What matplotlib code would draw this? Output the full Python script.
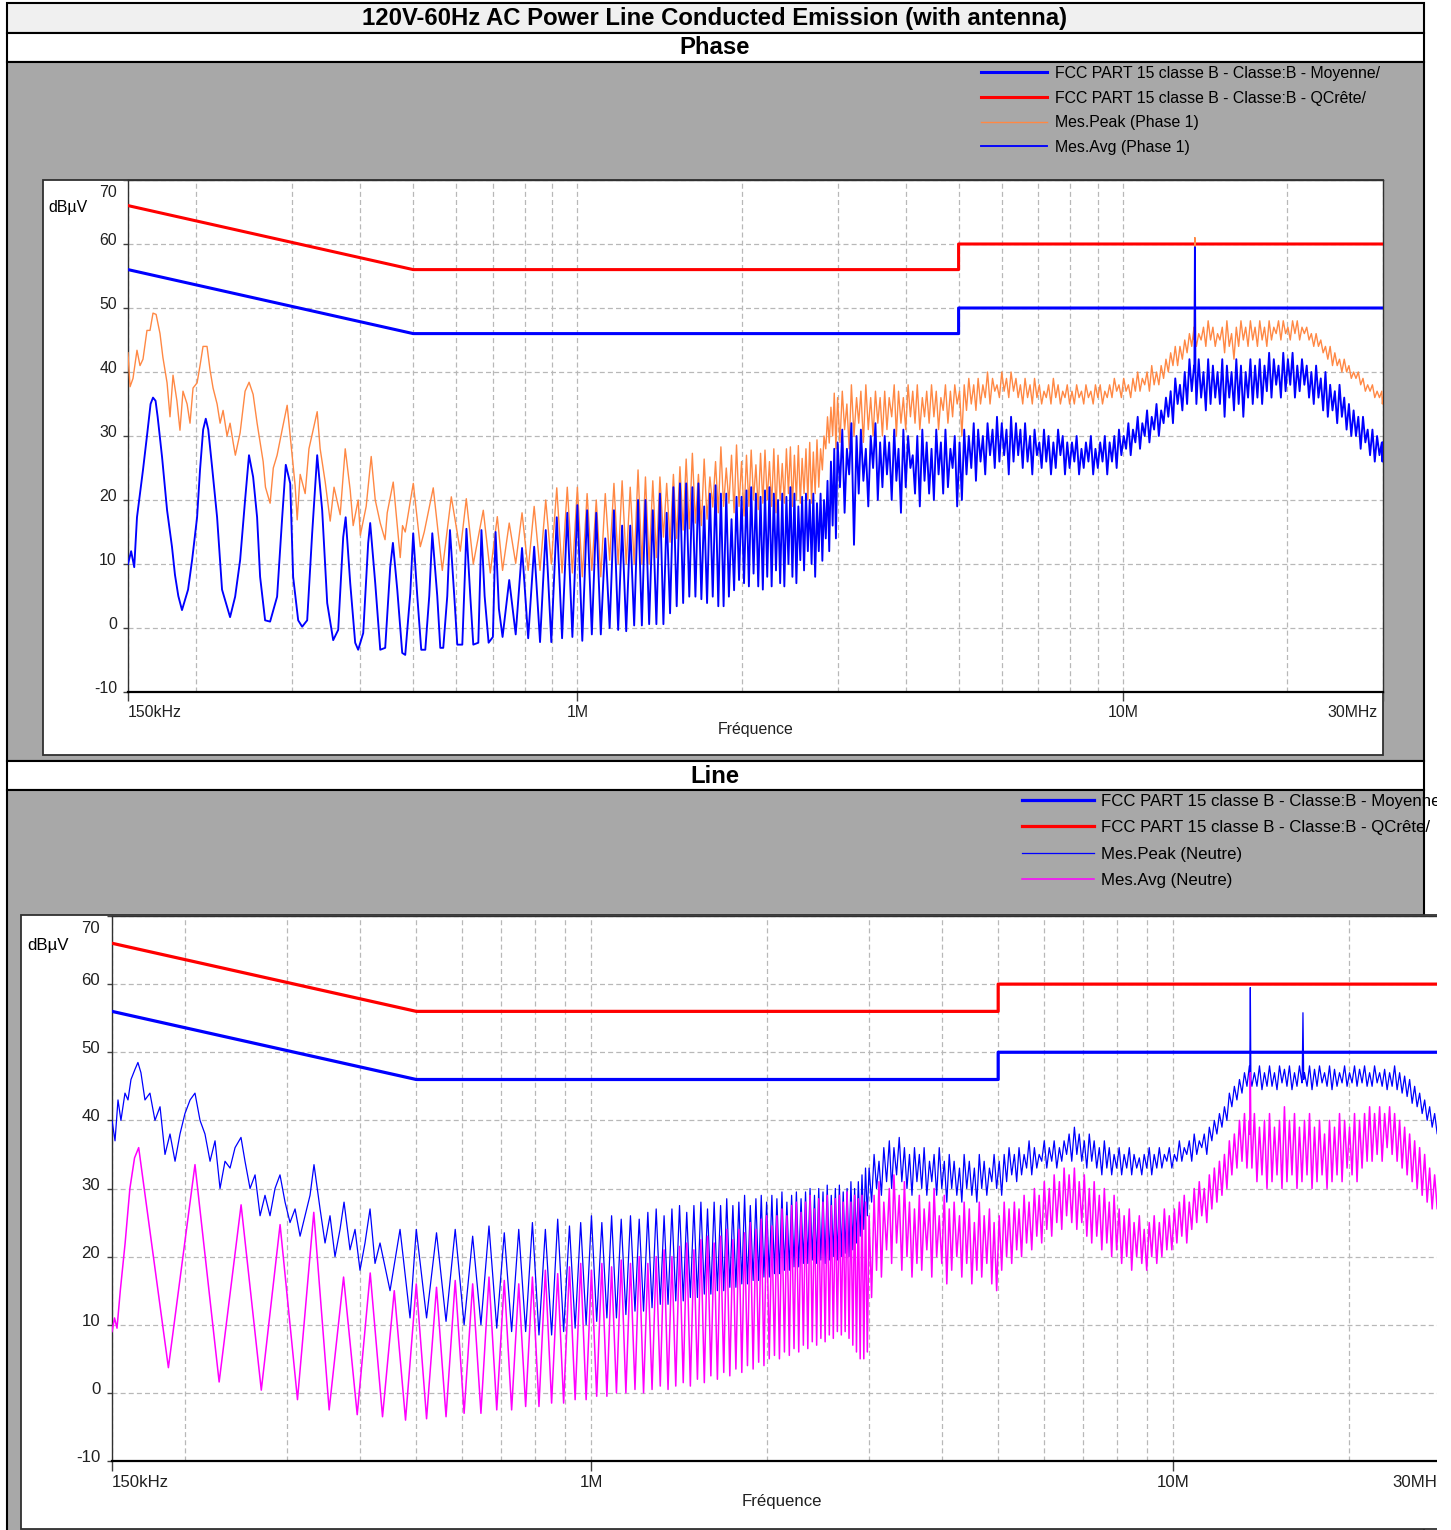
import numpy as np
import matplotlib
matplotlib.use("Agg")
import matplotlib.pyplot as plt
from matplotlib.patches import Rectangle
from matplotlib.ticker import NullFormatter

W, H = 1451, 1530

# ---------------- texts ----------------
chart_title = "120V-60Hz AC Power Line Conducted Emission (with antenna)"
panel_names = ["Phase", "Line"]
top_legend = ["FCC PART 15 classe B - Classe:B - Moyenne/",
              "FCC PART 15 classe B - Classe:B - QCrête/",
              "Mes.Peak (Phase 1)", "Mes.Avg (Phase 1)"]
bot_legend = ["FCC PART 15 classe B - Classe:B - Moyenne/",
              "FCC PART 15 classe B - Classe:B - QCrête/",
              "Mes.Peak (Neutre)", "Mes.Avg (Neutre)"]
y_label = "dBµV"
x_label = "Fréquence"
y_ticks = [-10, 0, 10, 20, 30, 40, 50, 60, 70]
x_major_mhz = [0.15, 1, 10, 30]
x_major_labels = ["150kHz", "1M", "10M", "30MHz"]
x_minor_mhz = [0.2, 0.3, 0.4, 0.5, 0.6, 0.7, 0.8, 0.9, 2, 3, 4, 5, 6, 7, 8, 9, 20]

# ---------------- limits ----------------
limit_f_mhz = [0.15, 0.5, 5, 5, 30]
qp_limit_db = [66, 56, 56, 60, 60]
avg_limit_db = [56, 46, 46, 50, 50]

# ---------------- shared frequency positions (kHz) ----------------
harm_pk_khz = [166.7, 208.3, 250.0, 291.7, 333.3, 375.0, 416.7, 458.3, 500.0, 541.7,
               583.3, 625.0, 666.7, 708.3, 750.0, 791.7, 833.3, 875.0, 916.7, 958.3,
               1000, 1042, 1083, 1125, 1167, 1208, 1250, 1292, 1333, 1375,
               1417, 1458, 1500, 1542, 1583, 1625, 1667, 1708, 1750, 1792,
               1833, 1875, 1917, 1958, 2000, 2042, 2083, 2125, 2167, 2208,
               2250, 2292, 2333, 2375, 2417, 2458, 2500, 2542, 2583, 2625,
               2667, 2708, 2750, 2792, 2833, 2875, 2917, 2958]
harm_tr_khz = [187.5, 229.2, 270.8, 312.5, 354.2, 395.8, 437.5, 479.2, 520.8, 562.5,
               604.2, 645.8, 687.5, 729.2, 770.8, 812.5, 854.2, 895.8, 937.5, 979.2,
               1021, 1063, 1104, 1146, 1188, 1229, 1271, 1313, 1354, 1396,
               1438, 1479, 1521, 1563, 1604, 1646, 1688, 1729, 1771, 1813,
               1854, 1896, 1938, 1979, 2021, 2063, 2104, 2146, 2188, 2229,
               2271, 2313, 2354, 2396, 2438, 2479, 2521, 2563, 2604, 2646,
               2688, 2729, 2771, 2813, 2854, 2896, 2938, 2979]
hf_khz = [3000, 3060, 3120, 3180, 3250, 3310, 3380, 3450, 3520, 3590,
          3660, 3730, 3810, 3880, 3960, 4040, 4120, 4200, 4290, 4370,
          4460, 4550, 4640, 4730, 4830, 4920, 5020, 5120, 5220, 5330,
          5430, 5540, 5650, 5770, 5880, 6000, 6120, 6240, 6370, 6490,
          6620, 6760, 6890, 7030, 7170, 7310, 7460, 7610, 7760, 7910,
          8070, 8230, 8400, 8560, 8740, 8910, 9090, 9270, 9460, 9650,
          9840, 10040, 10240, 10440, 10650, 10860, 11080, 11300, 11530, 11760,
          12000, 12240, 12480, 12730, 12990, 13250, 13510, 13780, 14060, 14340,
          14630, 14920, 15220, 15520, 15830, 16150, 16470, 16800, 17140, 17480,
          17830, 18190, 18550, 18920, 19300, 19690, 20080, 20480, 20890, 21310,
          21740, 22170, 22620, 23070, 23530, 24000, 24480, 24970, 25470, 25980,
          26500, 27030, 27570, 28120, 28690, 29260, 29850, 30000]
hf_mid_khz = [3030, 3090, 3150, 3215, 3280, 3345, 3415, 3485, 3555, 3625,
              3695, 3770, 3845, 3920, 4000, 4080, 4160, 4245, 4330, 4415,
              4505, 4595, 4685, 4780, 4875, 4970, 5070, 5170, 5275, 5380,
              5485, 5595, 5710, 5825, 5940, 6060, 6180, 6305, 6430, 6555,
              6690, 6825, 6960, 7100, 7240, 7385, 7535, 7685, 7835, 7990,
              8150, 8315, 8480, 8650, 8825, 9000, 9180, 9365, 9555, 9745,
              9940, 10140, 10340, 10545, 10755, 10970, 11190, 11415, 11645, 11880,
              12120, 12360, 12605, 12860, 13120, 13380, 13645, 13920, 14200, 14485,
              14775, 15070, 15370, 15675, 15990, 16310, 16635, 16970, 17310, 17655,
              18010, 18370, 18735, 19110, 19495, 19885, 20280, 20685, 21100, 21525,
              21955, 22395, 22845, 23300, 23765, 24240, 24725, 25220, 25725, 26240,
              26765, 27300, 27845, 28405, 28975, 29555, 29925]

# ---------------- Phase : Mes.Avg ----------------
ph_avg_low_khz = [150, 152, 154, 155.8, 159.8, 162.5, 165, 166.7, 168.5, 170, 173.2, 176.9, 180.6,
                  182.9, 185.5, 188.4, 190.8, 193.3, 196.6, 200.8, 203.3, 206, 208.3, 210.5, 213.9,
                  218.5, 223.1, 227.9, 230.8, 235.8, 240.8, 245.9, 250, 254.4, 258.7, 262, 267.6,
                  273.3, 281.5, 287.6, 292, 297.5, 301.2, 307.7, 312.9, 319.6, 326.4, 333.4, 340.5,
                  347.8, 356.7, 364.3, 372.1, 376, 383.3, 391.4, 396.4, 404.9, 413.5, 417, 426,
                  435.1, 444.3, 453.8, 459, 467.5, 477.4, 483.5, 493.9, 500, 508.7, 517.3, 526.2,
                  535.1, 542, 553.5, 560.6, 567.7, 577.4, 584, 594.7, 602.3, 615.2, 623, 626,
                  636.3, 644.4, 658.2, 667, 676, 687.5, 700, 708, 718]
ph_avg_low_db = [10, 12, 9.5, 17.3, 24.7, 30, 35, 36, 35.5, 33, 26.7, 18.4, 12.7,
                 8.3, 5, 2.8, 4.4, 6, 10.6, 17.3, 24.7, 31, 32.7, 31, 25.2,
                 17.3, 6, 3.3, 1.7, 4.9, 10.6, 20, 27, 23.6, 17.3, 8, 1.2,
                 1, 4.9, 17.3, 25.5, 22.6, 8, 1.2, 0.2, 1.2, 14.8, 27, 18.4,
                 3.9, -1.9, -0.3, 14.2, 17.3, 7, -2.3, -3.4, -0.8, 13.3, 16.4, 7,
                 -3.4, -3.1, 9.5, 13.3, 6, -3.9, -4.2, 5.4, 14.8, 5, -3.4, -3.4,
                 5, 14.8, 5, -3.1, -3.1, 5, 15.3, 5, -2.6, -2.6, 10, 15.5,
                 5, -2.6, -2.3, 15.3, 5, -2.3, -1.4, 15, 3]
ph_avg_pk_db = [7.5, 12.5, 12.7, 15.3, 17.3, 18, 19.2, 18.4, 18, 14, 18.4, 16, 16, 20, 20, 18.4,
                21, 18, 22, 22.6, 22.6, 22, 22.6, 19, 21, 22.3, 21, 21, 17, 20.5, 20.5, 21.5,
                22, 21, 20.5, 21.5, 22, 21, 20, 21, 20.5, 22, 21, 19, 20.5, 21, 20, 21,
                19.5, 21, 20, 23, 26, 28]
ph_avg_tr_db = [-1.4, -1.0, -1.6, -2.2, -2.2, -1.6, -1.4, -2.0, -1.0, -1.0, 0, -0.3, -0.5, 0.4,
                0.4, 0.6, 0.6, 0.6, 2.3, 3.4, 3.9, 4.9, 4.9, 4.5, 3.9, 4.9, 3.4, 3.4, 4.9, 5.9,
                7.5, 7.0, 6.5, 8.5, 6.5, 6.0, 8, 6.5, 9, 7, 6.5, 10, 8, 7, 10.6, 9, 12, 10, 8,
                12, 10.5, 14, 12, 16, 14]
ph_avg_hf_hi = [29, 31, 28, 32, 30, 31, 28, 30, 32, 29,
                30, 29, 31, 28, 31, 30, 27, 30, 31, 29,
                28, 31, 29, 31, 28, 30, 29, 31, 30, 32,
                31, 30, 32, 31, 33, 32, 31, 33, 32, 31,
                32, 30, 31, 29, 31, 30, 29, 31, 30, 29,
                29, 30, 28, 29, 30, 28, 29, 30, 29, 30,
                31, 30, 32, 31, 33, 32, 34, 33, 35, 34,
                36, 37, 39, 38, 40, 42, 41, 42, 40, 42,
                41, 40, 42, 41, 40, 42, 41, 40, 42, 41,
                42, 41, 43, 42, 41, 43, 42, 43, 41, 42,
                41, 40, 41, 39, 40, 38, 37, 38, 36, 35,
                34, 33, 33, 31, 31, 30, 29, 29]
ph_avg_hf_lo = [22, 18, 24, 13, 21, 23, 19, 25, 20, 22,
                24, 20, 23, 18, 22, 25, 21, 19, 23, 21,
                20, 24, 21, 22, 25, 19, 20, 24, 25, 23,
                26, 24, 27, 25, 26, 27, 24, 26, 27, 25,
                26, 24, 27, 25, 26, 24, 25, 27, 24, 25,
                26, 24, 25, 26, 24, 25, 26, 24, 26, 25,
                27, 28, 27, 29, 28, 30, 29, 31, 30, 32,
                33, 32, 35, 34, 35, 37, 35, 36, 34, 35,
                36, 35, 33, 36, 34, 35, 33, 36, 35, 36,
                35, 37, 36, 38, 36, 37, 38, 36, 37, 38,
                36, 35, 36, 34, 33, 34, 32, 33, 31, 30,
                30, 28, 29, 27, 26, 27, 26]
ph_avg_spike_khz = [13530, 13560, 13590]
ph_avg_spike_db = [40, 59.5, 40]

# ---------------- Phase : Mes.Peak ----------------
ph_pk_low_khz = [150, 151.3, 153.2, 155.8, 157.8, 159.8, 162.5, 164.6, 166.7, 168.9, 171.7, 173.8,
                 176.9, 179.1, 181.4, 184.4, 186.8, 189.2, 192.5, 194.9, 197.4, 200.8, 203.3, 205.9,
                 209.4, 212.1, 214.8, 218.5, 221.3, 224.1, 227.9, 230.8, 233.8, 236, 240.8, 245.9,
                 250.1, 254.4, 258.7, 262, 265.4, 268, 273.3, 277, 281.5, 287.6, 293.7, 297.5,
                 303.8, 306.4, 310.3, 316.9, 322, 327.8, 333.4, 337.6, 344.9, 352.2, 358, 367.4,
                 375.3, 383.3, 388.1, 396.4, 400, 410, 418.8, 426, 435.1, 444, 448.1, 459.6,
                 473.4, 478, 483.5, 500.2, 515.2, 523.9, 544.2, 565.4, 587.3, 610, 625.7, 644.4,
                 672.2, 692.4, 713.2]
ph_pk_low_db = [43, 37.7, 39, 43.4, 41, 42, 46.5, 46.5, 49.2, 49, 46, 42.3,
                38.3, 33, 39.5, 35.5, 30.9, 37, 35, 32, 37.5, 38.3, 41, 44,
                44, 40.3, 37.5, 35, 32, 34, 30, 32, 29, 27, 30.5, 37,
                38.4, 36.5, 32, 29, 26, 22, 19.5, 25, 27, 31, 34.8, 30,
                22.2, 16.9, 24, 21, 28, 31, 33.8, 28, 22.8, 16.7, 22, 17.7,
                28, 21.5, 16, 20, 14.5, 19, 26.8, 20, 16.4, 13.8, 18, 22.8,
                11, 16, 15, 22.6, 12.7, 15, 21.9, 9, 20.5, 12, 20.2, 10,
                18.4, 8.6, 17.4]
ph_pk_pk_db = [16.4, 18, 19, 20, 21.9, 22, 22, 21, 20, 21, 22.6, 23, 22, 24.7, 23.6, 23, 23.6,
               22.6, 24, 25.2, 26.4, 27.3, 24, 26.4, 23.6, 26, 28.3, 25, 27, 28.6, 26, 27, 27.8,
               25.5, 27.3, 27.8, 26, 28, 27, 25.7, 28, 28.3, 27, 28.5, 26.5, 28, 29, 27.5, 29.4,
               28, 30, 33, 34.5, 36.7]
ph_pk_tr_db = [9, 10.1, 9, 9, 10, 8.6, 8.6, 8, 9, 8, 10.6, 10, 10, 10, 10, 10, 11, 14.2, 13.4,
               14, 15.3, 15.5, 16.4, 16, 17, 18.9, 18, 19, 19.5, 18, 19, 17.5, 19, 20, 18.5, 19.5,
               20, 19, 18, 20, 19.5, 21, 19, 20, 19.5, 21, 20, 19.5, 21, 22, 24.7, 28, 28.9, 30, 28]
ph_pk_hf_hi = [36, 37, 35, 38, 36, 37, 38, 36, 37, 36,
               37, 36, 38, 37, 36, 38, 37, 38, 36, 37,
               38, 37, 36, 38, 37, 38, 37, 38, 39, 38,
               39, 38, 40, 39, 38, 40, 39, 40, 39, 38,
               39, 38, 39, 38, 37, 38, 39, 38, 37, 38,
               37, 38, 37, 38, 37, 38, 38, 37, 38, 39,
               38, 39, 38, 39, 40, 39, 40, 41, 40, 41,
               42, 43, 44, 44, 45, 46, 47, 46, 47, 48,
               47, 46, 47, 48, 46, 47, 48, 47, 48, 47,
               48, 47, 48, 47, 48, 48, 47, 48, 48, 47,
               47, 46, 46, 45, 44, 44, 43, 42, 42, 41,
               40, 40, 39, 38, 38, 37, 37, 36]
ph_pk_hf_lo = [29, 31, 28, 30, 32, 29, 31, 30, 32, 30,
               31, 33, 30, 32, 31, 33, 32, 31, 33, 32,
               33, 31, 34, 32, 33, 35, 30, 34, 35, 34,
               35, 36, 35, 37, 36, 37, 36, 37, 36, 35,
               36, 35, 36, 35, 36, 35, 36, 35, 36, 35,
               35, 36, 35, 36, 35, 36, 35, 36, 36, 37,
               36, 37, 36, 37, 37, 38, 37, 38, 38, 39,
               40, 41, 41, 42, 43, 44, 44, 45, 44, 45,
               44, 45, 43, 44, 42, 44, 45, 44, 45, 44,
               45, 44, 45, 46, 45, 46, 45, 46, 45, 46,
               45, 44, 44, 43, 42, 41, 41, 40, 40, 39,
               39, 38, 37, 37, 36, 36, 35]
ph_pk_spike_khz = [13530, 13560, 13590]
ph_pk_spike_db = [45, 61, 45]

# ---------------- Line : Mes.Peak (Neutre) ----------------
ln_pk_low_khz = [150, 151.8, 153.6, 155.4, 157.9, 159.8, 161.7, 164.3, 166.2, 168.2,
                 170.9, 174.3, 177.8, 181.4, 185.0, 188.7, 192.5, 196.3, 200.2, 204.3,
                 208.3, 212.5, 216.7, 221.1, 225.5, 230.0, 234.6, 239.3, 244.1, 249.9,
                 253.9, 259.0, 264.2, 269.5, 274.8, 280.3, 285.9, 291.6, 297.5, 303.4,
                 309.5, 315.7, 322.0, 328.4, 333.6, 341.7, 348.5, 355.4, 362.5, 369.8,
                 375.7, 384.7, 392.4, 400.2, 408.2, 416.4, 424.7, 433.2, 450.7, 468.9, 487.8]
ln_pk_low_db = [40, 37, 43, 40, 44, 43, 46, 47.5, 48.5, 47,
                43, 44, 40, 42, 35, 38, 34, 38, 41, 43,
                44, 40, 38, 34, 37, 30, 34, 33, 36, 37.5,
                34, 30, 32, 26, 29, 26, 30, 32, 28, 25,
                27, 23, 26, 29, 33.5, 27, 22, 26, 20, 24,
                28, 21, 24, 18, 22, 27, 19, 22, 15, 24, 11]
ln_pk_pk_db = [24, 23.5, 24, 23, 24.5, 23.5, 24, 25, 24, 25.5,
               24.5, 25, 26, 25, 26, 25.5, 26, 25.5, 26.5, 27,
               26, 27, 27.5, 26.5, 27.5, 28, 27, 28, 27.5, 28.5,
               27.5, 28, 29, 27.5, 28.5, 29, 28, 29, 28.5, 29.5,
               28, 29, 29.5, 28.5, 29.5, 30, 29, 30, 29.5, 30.5,
               29, 30, 30.5, 29.5, 30, 31, 30, 31, 32, 33]
ln_pk_tr_db = [11, 10.5, 10, 10, 9.5, 9, 9, 8.5, 8.5, 9,
               9.5, 10, 10.5, 11, 11, 11.5, 12, 12, 12.5, 13,
               13, 13.5, 13.5, 14, 14, 14.5, 14.5, 15, 15, 15.5,
               15.5, 16, 16, 16.5, 16.5, 17, 17, 17.5, 17.5, 18,
               18, 18.5, 18.5, 19, 19, 19.5, 19, 19.5, 19, 19.5,
               20, 19.5, 20, 20.5, 20, 21, 22, 23, 24, 26]
ln_pk_hf_hi = [33, 35, 34, 36, 37, 36, 37.5, 36, 35, 36,
               35, 36, 34, 35, 36, 34, 35, 34, 33, 35,
               34, 33, 35, 34, 33, 35, 34, 35, 36, 35,
               36, 35, 37, 36, 35, 37, 36, 37, 36, 37,
               38, 39, 38, 37, 38, 37, 36, 37, 36, 35,
               36, 35, 36, 35, 34.5, 35, 36, 35, 36, 35,
               36, 35, 37, 36, 37, 38, 37, 38, 39, 40,
               41, 42, 44, 45, 46, 47, 48, 47, 48, 47,
               48, 47, 48, 47.5, 48, 47, 48, 47, 48, 47.5,
               48, 47, 48, 47.5, 47, 48, 47, 48, 47.5, 48,
               47, 48, 47, 47.5, 47, 48, 47, 46.5, 46, 45,
               44, 43, 42, 41, 40, 39, 38, 36]
ln_pk_hf_lo = [28, 30, 29, 31, 30, 32, 31, 30, 29, 31,
               30, 29, 31, 29, 30, 28, 30, 29, 28, 30,
               29, 28, 30, 29, 31, 30, 29, 31, 32, 31,
               32, 33, 32, 33, 34, 33, 34, 33, 34, 35,
               34, 35, 34, 33, 34, 33, 32, 33, 32, 33,
               32, 33, 32, 33, 32, 33, 32, 33, 33, 34,
               33, 34, 34, 35, 34, 35, 36, 35, 37, 38,
               39, 40, 42, 43, 44, 45, 45, 45, 44.5, 45,
               45, 44.5, 45.5, 45, 44.5, 45, 45.5, 45, 44.5, 45,
               45.5, 45, 44.5, 45, 45.5, 45, 45.5, 45, 45.5, 45,
               45, 45.5, 45, 44.5, 45, 44.5, 44, 43.5, 42.5, 42,
               41, 40, 39, 38, 37, 36, 35]
ln_pk_spike_khz = [13530, 13560, 13590, 16650, 16700, 16750]
ln_pk_spike_db = [46, 59.5, 46, 46, 55.8, 46]

# ---------------- Line : Mes.Avg (Neutre) ----------------
ln_avg_start_khz = [150, 151.5, 153, 155, 158, 161, 164]
ln_avg_start_db = [9, 11, 9.5, 15, 22, 30, 34.5]
ln_avg_pk_db = [36, 33.5, 27.6, 24.7, 26.5, 17, 17.6, 15, 16, 15.5,
                16.5, 16, 17, 16.5, 16, 17, 18, 17.5, 18.5, 19,
                18, 19, 18.5, 19.5, 19, 20, 19, 20, 21, 20,
                21.5, 22, 21, 22.5, 23, 22, 23, 24, 22.5, 24,
                23.5, 25, 24, 25.5, 26, 24.5, 26, 27, 26, 27.5,
                28, 26.5, 28, 29, 27, 28.5, 28, 29, 27.5, 28.5,
                29, 28, 29.5, 28, 29, 28.5, 29, 28]
ln_avg_tr_db = [3.7, 1.6, 0.4, -1, -2.5, -3.2, -3.5, -4, -3.8, -3.5,
                -3, -3, -2.5, -2.5, -2, -2, -1.5, -1.5, -1, -1,
                -0.5, -0.5, 0, 0, 0.5, 0, 0.5, 1, 0.5, 1,
                1.5, 1, 2, 1.5, 2.5, 2, 3, 2.5, 3.5, 3,
                4, 3.5, 4.5, 4, 5, 5.5, 5, 6, 5.5, 6.5,
                6, 7, 6.5, 7.5, 7, 8, 7.5, 8.5, 8, 9,
                8.5, 9, 8, 7, 6, 5, 5, 6]
ln_avg_hf_hi = [26, 29, 31, 28, 30, 32, 29, 31, 28, 27,
                29, 27, 28, 30, 26, 29, 27, 28, 26, 28,
                27, 25, 28, 26, 27, 25, 26, 28, 27, 28,
                27, 29, 28, 30, 29, 31, 30, 32, 31, 33,
                32, 33, 31, 32, 30, 31, 29, 30, 28, 29,
                27, 26, 27, 25, 26, 24, 25, 26, 25, 27,
                26, 27, 28, 29, 28, 30, 31, 30, 32, 33,
                34, 35, 37, 38, 40, 41, 40, 41, 39, 40,
                41, 39, 40, 42, 40, 41, 39, 40, 41, 39,
                40, 38, 40, 39, 41, 40, 39, 41, 40, 41,
                42, 41, 42, 41, 42, 41, 40, 39, 38, 37,
                36, 35, 33, 32, 31, 30, 29, 28]
ln_avg_hf_lo = [14, 18, 17, 21, 19, 22, 18, 20, 17, 19,
                18, 21, 17, 20, 19, 16, 18, 20, 17, 19,
                16, 18, 17, 19, 16, 15, 18, 20, 19, 21,
                20, 22, 21, 23, 22, 24, 23, 25, 24, 26,
                25, 24, 25, 23, 22, 23, 21, 22, 20, 21,
                19, 20, 18, 20, 19, 18, 20, 19, 20, 21,
                21, 22, 23, 22, 24, 25, 26, 25, 27, 28,
                29, 30, 32, 33, 34, 33, 33, 31, 32, 30,
                31, 32, 30, 31, 32, 30, 31, 32, 30, 31,
                32, 30, 31, 32, 31, 33, 32, 31, 33, 34,
                34, 35, 34, 36, 35, 34, 33, 32, 31, 30,
                29, 28, 27, 27, 26, 25, 25]
ln_avg_spike_khz = [13530, 13560, 13590]
ln_avg_spike_db = [38, 47, 38]


def trace(*segs):
    pts = []
    for fk, db in segs:
        pts.extend(zip(fk, db))
    pts.sort(key=lambda p: p[0])
    return (np.array([p[0] for p in pts]) / 1000.0,
            np.array([p[1] for p in pts], dtype=float))


ph_avg = trace((ph_avg_low_khz, ph_avg_low_db), (harm_tr_khz[13:], ph_avg_tr_db),
               (harm_pk_khz[14:], ph_avg_pk_db), (hf_khz, ph_avg_hf_hi),
               (hf_mid_khz, ph_avg_hf_lo), (ph_avg_spike_khz, ph_avg_spike_db))
ph_pk = trace((ph_pk_low_khz, ph_pk_low_db), (harm_tr_khz[13:], ph_pk_tr_db),
              (harm_pk_khz[14:], ph_pk_pk_db), (hf_khz, ph_pk_hf_hi),
              (hf_mid_khz, ph_pk_hf_lo), (ph_pk_spike_khz, ph_pk_spike_db))
ln_pk = trace((ln_pk_low_khz, ln_pk_low_db), (harm_pk_khz[8:], ln_pk_pk_db),
              (harm_tr_khz[8:], ln_pk_tr_db), (hf_khz, ln_pk_hf_hi),
              (hf_mid_khz, ln_pk_hf_lo), (ln_pk_spike_khz, ln_pk_spike_db))
ln_avg = trace((ln_avg_start_khz, ln_avg_start_db), (harm_pk_khz, ln_avg_pk_db),
               (harm_tr_khz, ln_avg_tr_db), (hf_khz, ln_avg_hf_hi),
               (hf_mid_khz, ln_avg_hf_lo), (ln_avg_spike_khz, ln_avg_spike_db))

# ---------------- figure ----------------
plt.rcParams['font.family'] = ['Liberation Sans', 'DejaVu Sans']
fig = plt.figure(figsize=(W / 100, H / 100), dpi=100)
bg = fig.add_axes([0, 0, 1, 1], zorder=-5)
bg.set_xlim(0, W)
bg.set_ylim(H, 0)
bg.axis('off')


def rect(x0, y0, x1, y1, fc, ec='black', lw=1.5, z=1):
    bg.add_patch(Rectangle((x0, y0), x1 - x0, y1 - y0, facecolor=fc,
                           edgecolor=ec, linewidth=lw, zorder=z))


rect(7, 3, 1424, 33, '#f0f0f0')
rect(7, 33, 1424, 62, 'white')
rect(7, 62, 1424, 761, '#a8a8a8')
rect(7, 761, 1424, 790, 'white')
rect(7, 790, 1424, 1570, '#a8a8a8')
rect(43, 180, 1383, 755, 'white', ec='#303030', lw=1.3, z=2)
rect(21, 915, 1480, 1529, 'white', ec='#303030', lw=1.3, z=2)

bg.text(715, 18.5, chart_title, ha='center', va='center', fontsize=17.2, fontweight='bold')
bg.text(715, 47.5, panel_names[0], ha='center', va='center', fontsize=17.2, fontweight='bold')
bg.text(715, 776, panel_names[1], ha='center', va='center', fontsize=17.2, fontweight='bold')
bg.text(48, 207, y_label, ha='left', va='center', fontsize=11.4, zorder=5)
bg.text(27, 945, y_label, ha='left', va='center', fontsize=12.2, zorder=5)


def px_rect(l, t, r, b):
    return [l / W, 1 - b / H, (r - l) / W, (b - t) / H]


def setup(ax, s, fs):
    ax.set_xscale('log')
    ax.set_xlim(0.15, 30)
    ax.set_ylim(-10, 70)
    ax.set_xticks(x_major_mhz)
    ax.set_xticks(x_minor_mhz, minor=True)
    ax.set_yticks(y_ticks)
    ax.xaxis.set_major_formatter(NullFormatter())
    ax.xaxis.set_minor_formatter(NullFormatter())
    ax.yaxis.set_major_formatter(NullFormatter())
    ax.tick_params(axis='x', which='major', direction='out', length=9 * s * 0.72,
                   width=1, color='#404040')
    ax.tick_params(axis='x', which='minor', length=0)
    ax.tick_params(axis='y', direction='out', length=5 * s * 0.72, width=1, color='#404040')
    gkw = dict(color='#b8b8b8', linewidth=0.9, linestyle=(0, (4, 2.5)))
    ax.grid(True, which='both', axis='x', **gkw)
    ax.grid(True, which='major', axis='y', **gkw)
    ax.set_axisbelow(True)
    for side in ['left', 'top', 'right']:
        ax.spines[side].set_color('#303030')
        ax.spines[side].set_linewidth(1.0)
    ax.spines['bottom'].set_color('black')
    ax.spines['bottom'].set_linewidth(1.6)
    for v in y_ticks:
        if v == 70:
            ax.annotate(str(v), xy=(0, v), xycoords=('axes fraction', 'data'),
                        xytext=(-11 * s, -5 * s), textcoords='offset pixels',
                        ha='right', va='top', fontsize=fs, color='#202020')
        else:
            ax.annotate(str(v), xy=(0, v), xycoords=('axes fraction', 'data'),
                        xytext=(-11 * s, -1), textcoords='offset pixels',
                        ha='right', va='baseline', fontsize=fs, color='#202020')
    for f, lab in zip(x_major_mhz, x_major_labels):
        if lab == x_major_labels[0]:
            ha, dx = 'left', 0
        elif lab == x_major_labels[-1]:
            ha, dx = 'right', -5 * s
        else:
            ha, dx = 'center', 0
        ax.annotate(lab, xy=(f, 0), xycoords=('data', 'axes fraction'),
                    xytext=(dx, -13 * s), textcoords='offset pixels',
                    ha=ha, va='top', fontsize=fs, color='#202020')
    ax.annotate(x_label, xy=(0.5, 0), xycoords='axes fraction',
                xytext=(0, -38 * s), textcoords='offset pixels',
                ha='center', va='center', fontsize=fs, color='#202020')


# ---- top (Phase) ----
s1 = 1.0
ax1 = fig.add_axes(px_rect(128, 180, 1383, 692))
setup(ax1, s1, 11.4)
l_avg1, = ax1.plot(limit_f_mhz, avg_limit_db, color='#0000ff', lw=2.2, zorder=3)
l_qp1, = ax1.plot(limit_f_mhz, qp_limit_db, color='#ff0000', lw=2.2, zorder=3)
l_pk1, = ax1.plot(ph_pk[0], ph_pk[1], color='#ff8844', lw=1.0, zorder=4)
l_av1, = ax1.plot(ph_avg[0], ph_avg[1], color='#0000ff', lw=1.35, zorder=5)
ax1.legend([l_avg1, l_qp1, l_pk1, l_av1], top_legend, loc='upper left',
           bbox_to_anchor=(981 / W, 1 - 66 / H), bbox_transform=fig.transFigure,
           frameon=False, fontsize=11.4, handlelength=4.15, handletextpad=0.5,
           labelspacing=0.61, borderpad=0, borderaxespad=0)

# ---- bottom (Line) ----
s2 = 1.068
ax2 = fig.add_axes(px_rect(112, 916, 1451, 1461))
setup(ax2, s2, 12.1)
l_avg2, = ax2.plot(limit_f_mhz, avg_limit_db, color='#0000ff', lw=2.3, zorder=3)
l_qp2, = ax2.plot(limit_f_mhz, qp_limit_db, color='#ff0000', lw=2.3, zorder=3)
l_pk2, = ax2.plot(ln_pk[0], ln_pk[1], color='#0000ff', lw=0.9, zorder=4)
l_av2, = ax2.plot(ln_avg[0], ln_avg[1], color='#ff00ff', lw=1.1, zorder=5)
ax2.legend([l_avg2, l_qp2, l_pk2, l_av2], bot_legend, loc='upper left',
           bbox_to_anchor=(1022 / W, 1 - 794 / H), bbox_transform=fig.transFigure,
           frameon=False, fontsize=12.1, handlelength=4.3, handletextpad=0.42,
           labelspacing=0.67, borderpad=0, borderaxespad=0)

# right-hand crop of the original picture
fig.add_artist(Rectangle((1437 / W, 0), 1 - 1437 / W, 1, transform=fig.transFigure,
                         facecolor='white', edgecolor='none', zorder=50))

fig.savefig('out.png', dpi=100)
